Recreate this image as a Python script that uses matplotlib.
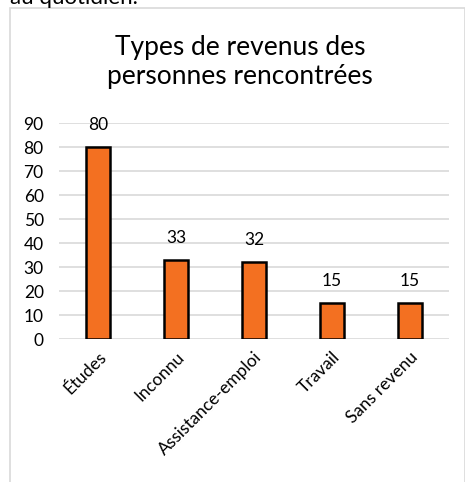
import matplotlib.pyplot as plt
from matplotlib.patches import Rectangle

categories = ["Études", "Inconnu", "Assistance-emploi", "Travail", "Sans revenu"]
values = [80, 33, 32, 15, 15]
yticks = [0, 10, 20, 30, 40, 50, 60, 70, 80, 90]
title = "Types de revenus des\npersonnes rencontrées"

plt.rcParams['font.family'] = ['Lato', 'DejaVu Sans']

fig = plt.figure(figsize=(4.65, 4.82), dpi=100)

# chart frame (light gray border, cut at the bottom / right)
frame = Rectangle((10 / 465, -0.05), 455 / 465, 1.05 - 7.5 / 482,
                  transform=fig.transFigure, fill=False,
                  edgecolor='#d9d9d9', linewidth=1.2)
fig.patches.append(frame)

# clipped text from the page above the chart
fig.text(10 / 465, 1 - 4 / 482, "au quotidien.", fontsize=16,
         va='baseline', ha='left', color='black')

ax = fig.add_axes([59 / 465, (482 - 339) / 482, 390 / 465, 216 / 482])
x = range(len(categories))
bars = ax.bar(x, values, width=0.32, color='#F37021', edgecolor='black',
              linewidth=1.8, zorder=3)

for xi, v in zip(x, values):
    ax.annotate(str(v), (xi, v), xytext=(0, 10), textcoords='offset points',
                ha='center', va='bottom', fontsize=12.5)

ax.set_xlim(-0.5, len(categories) - 0.5)
ax.set_ylim(0, 90)
ax.set_yticks(yticks)
ax.set_yticklabels([str(t) for t in yticks], fontsize=12.5)
ax.set_xticks(list(x))
ax.set_xticklabels(categories, rotation=45, ha='right', rotation_mode='anchor',
                   fontsize=12.5)
ax.tick_params(length=0, pad=7)
ax.tick_params(axis='y', pad=11)
ax.grid(axis='y', color='#d9d9d9', linewidth=1.2, zorder=0)
for s in ax.spines.values():
    s.set_visible(False)

fig.text(240 / 465, 1 - 62 / 482, title, fontsize=19, ha='center', va='center',
         linespacing=1.2)

fig.savefig('out.png', dpi=100)
